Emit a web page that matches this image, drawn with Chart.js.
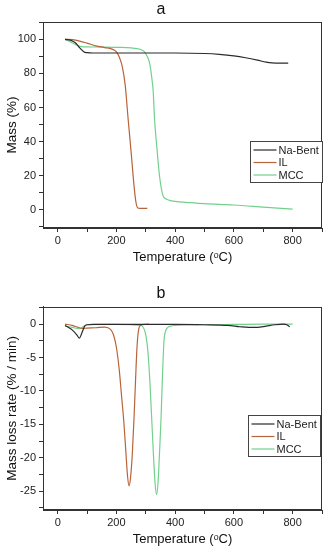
<!DOCTYPE html>
<html>
<head>
<meta charset="utf-8">
<script src="https://cdn.jsdelivr.net/npm/chart.js@4.4.0/dist/chart.umd.min.js"></script>
<style>
  body { margin: 0; background: #fff; }
  canvas { display: block; }
</style>
</head>
<body>
<canvas id="tgChart" width="327" height="270"></canvas>
<canvas id="dtgChart" width="327" height="280"></canvas>
<script>
// series names
const seriesNames = ['Na-Bent', 'IL', 'MCC'];
const seriesColors = ['#2b2b2b', '#b8643a', '#72d08e'];

// (a) TG curves: temperature (°C) and mass (%)
const tgTempNaBent = [25, 45, 60, 75, 90, 100, 120, 200, 300, 400, 500, 550, 600, 640, 680, 710, 730, 760, 785];
const tgMassNaBent = [100, 99.4, 98, 95, 92.6, 92.2, 92, 92, 92, 92, 91.7, 91.2, 90.3, 89.2, 87.8, 86.6, 86.2, 86.1, 86.1];
const tgTempIL = [25, 50, 75, 100, 130, 160, 185, 200, 210, 220, 230, 240, 250, 260, 266, 272, 280, 305];
const tgMassIL = [100, 99.8, 99, 97.8, 96.2, 95.2, 94.3, 92.7, 89.5, 84, 73, 53, 34, 14, 5, 1.2, 0.8, 0.8];
const tgTempMCC = [25, 40, 60, 80, 100, 150, 200, 250, 280, 295, 305, 313, 320, 325, 330, 338, 347, 358, 370, 385, 400, 450, 500, 600, 700, 800];
const tgMassMCC = [100, 98.8, 97, 95.8, 95.6, 95.5, 95.3, 95, 94.2, 92.8, 90, 86, 78, 70, 53, 36, 19.5, 8.6, 6.3, 5.4, 4.9, 4.2, 3.6, 2.8, 1.6, 0.4];

// (b) DTG curves: temperature (°C) and mass loss rate (% / min)
const dtgTempNaBent = [25, 40, 50, 65, 74, 80, 87, 92, 100, 120, 200, 300, 400, 500, 580, 620, 650, 680, 710, 740, 770, 780, 790];
const dtgRateNaBent = [-0.2, -0.6, -0.9, -1.6, -2.1, -1.6, -0.8, -0.3, -0.1, -0.05, -0.05, -0.05, -0.05, -0.1, -0.2, -0.4, -0.5, -0.5, -0.3, -0.1, 0, -0.1, -0.4];
const dtgTempIL = [25, 50, 70, 85, 100, 130, 160, 180, 190, 200, 210, 218, 225, 232, 238, 243, 248, 254, 260, 265, 270, 275, 282, 300, 310];
const dtgRateIL = [0, -0.2, -0.5, -0.65, -0.6, -0.55, -0.45, -0.8, -1.6, -3.5, -7, -11, -14.5, -19, -22.8, -24.2, -23, -19.5, -14, -8.5, -3.5, -1, -0.2, -0.05, 0];
const dtgTempMCC = [25, 50, 75, 90, 100, 150, 200, 250, 280, 290, 300, 308, 315, 320, 326, 332, 337, 342, 347, 352, 357, 362, 368, 375, 385, 400, 450, 500, 600, 700, 800];
const dtgRateMCC = [-0.3, -0.5, -0.7, -0.3, -0.1, -0.05, -0.05, -0.1, -0.2, -0.4, -1.6, -4.5, -9.5, -14, -19.5, -24, -25.5, -23.5, -19, -14, -7.5, -2.5, -1, -0.5, -0.3, -0.2, -0.1, -0.1, -0.05, 0, 0];

const FONT = '"Liberation Sans", Arial, sans-serif';

const toPoints = (xs, ys) => xs.map((x, i) => ({ x: x, y: ys[i] }));

// draws the top and right sides of the plot box
const frameBox = {
  id: 'frameBox',
  afterDatasetsDraw(chart) {
    const { ctx, chartArea } = chart;
    ctx.save();
    ctx.strokeStyle = '#333';
    ctx.lineWidth = 1;
    ctx.strokeRect(Math.round(chartArea.left) + 0.5, Math.round(chartArea.top) + 0.5,
      Math.round(chartArea.right - chartArea.left) - 1, Math.round(chartArea.bottom - chartArea.top) - 1);
    ctx.restore();
  }
};

// legend drawn as a boxed key inside the plot, like the original figure
const boxLegend = {
  id: 'boxLegend',
  afterDraw(chart, args, opts) {
    const { ctx, chartArea } = chart;
    const w = 72, h = 41;
    const x = Math.round(chartArea.right - w - opts.rightGap) + 0.5;
    const y = Math.round(opts.top) + 0.5;
    ctx.save();
    ctx.fillStyle = '#fff';
    ctx.fillRect(x, y, w, h);
    ctx.strokeStyle = '#444';
    ctx.lineWidth = 1;
    ctx.strokeRect(x, y, w, h);
    ctx.font = '11px ' + FONT;
    ctx.textBaseline = 'middle';
    chart.data.datasets.forEach((ds, i) => {
      const ry = y + 8.5 + i * 12.5;
      ctx.strokeStyle = ds.borderColor;
      ctx.lineWidth = 1.2;
      ctx.beginPath();
      ctx.moveTo(x + 3, ry);
      ctx.lineTo(x + 26, ry);
      ctx.stroke();
      ctx.fillStyle = '#222';
      ctx.fillText(ds.label, x + 28, ry + 0.5);
    });
    ctx.restore();
  }
};

function makeChart(id, cfg) {
  const datasets = cfg.series.map((s, i) => ({
    label: seriesNames[i],
    data: toPoints(s[0], s[1]),
    borderColor: seriesColors[i],
    backgroundColor: seriesColors[i],
    borderWidth: 1.2,
    pointRadius: 0,
    cubicInterpolationMode: 'monotone',
    fill: false
  }));

  return new Chart(document.getElementById(id).getContext('2d'), {
    type: 'line',
    data: { datasets: datasets },
    options: {
      responsive: false,
      animation: false,
      devicePixelRatio: 1,
      layout: { padding: { left: 0, right: 5, top: 0, bottom: 0 } },
      plugins: {
        legend: { display: false },
        tooltip: { enabled: false },
        title: {
          display: true,
          text: cfg.title,
          color: '#111',
          font: { family: FONT, size: 16, weight: 'normal', lineHeight: 1.2 },
          padding: { top: cfg.titleTop, bottom: cfg.titleBottom }
        },
        boxLegend: { top: cfg.legendTop, rightGap: cfg.legendGap }
      },
      scales: {
        x: {
          type: 'linear',
          min: -50,
          max: 900,
          afterFit: (scale) => { scale.height = cfg.xHeight; },
          border: { color: '#333', width: 1 },
          grid: { drawOnChartArea: false, drawTicks: true, tickLength: 4, color: '#333' },
          ticks: {
            stepSize: 100,
            includeBounds: false,
            autoSkip: false,
            maxRotation: 0,
            padding: 2,
            color: '#222',
            font: { family: FONT, size: 11 },
            callback: (v) => (v % 200 === 0 && v >= 0 && v <= 800) ? String(v) : ''
          },
          title: {
            display: true,
            text: 'Temperature (ᵒC)',
            color: '#111',
            font: { family: FONT, size: 13 },
            padding: { top: 0, bottom: cfg.xTitlePad }
          }
        },
        y: {
          type: 'linear',
          min: cfg.yMin,
          max: cfg.yMax,
          afterFit: (scale) => { scale.width = 43; },
          border: { color: '#333', width: 1 },
          grid: { drawOnChartArea: false, drawTicks: true, tickLength: 4, color: '#333' },
          ticks: {
            stepSize: cfg.yStep,
            includeBounds: false,
            autoSkip: false,
            padding: 3,
            color: '#222',
            font: { family: FONT, size: 11 },
            callback: cfg.yLabel
          },
          title: {
            display: true,
            text: cfg.yTitle,
            color: '#111',
            font: { family: FONT, size: 13.5 },
            padding: { top: 4, bottom: 0 }
          }
        }
      }
    },
    plugins: [frameBox, boxLegend]
  });
}

makeChart('tgChart', {
  title: 'a',
  titleTop: 0,
  titleBottom: 2.8,
  yTitle: 'Mass (%)',
  yMin: -10.7,
  yMax: 110.2,
  yStep: 10,
  yLabel: (v) => (Math.round(v) % 20 === 0 && v >= 0 && v <= 100) ? String(Math.round(v)) : '',
  xHeight: 42,
  xTitlePad: 5,
  legendTop: 141,
  legendGap: 0,
  series: [[tgTempNaBent, tgMassNaBent], [tgTempIL, tgMassIL], [tgTempMCC, tgMassMCC]]
});

makeChart('dtgChart', {
  title: 'b',
  titleTop: 14,
  titleBottom: 3.5,
  yTitle: 'Mass loss rate (% / min)',
  yMin: -27.8,
  yMax: 2.6,
  yStep: 2.5,
  yLabel: (v) => (Math.abs(v % 5) < 1e-6) ? String(v) : '',
  xHeight: 40,
  xTitlePad: 3,
  legendTop: 145,
  legendGap: 2,
  series: [[dtgTempNaBent, dtgRateNaBent], [dtgTempIL, dtgRateIL], [dtgTempMCC, dtgRateMCC]]
});
</script>
</body>
</html>
